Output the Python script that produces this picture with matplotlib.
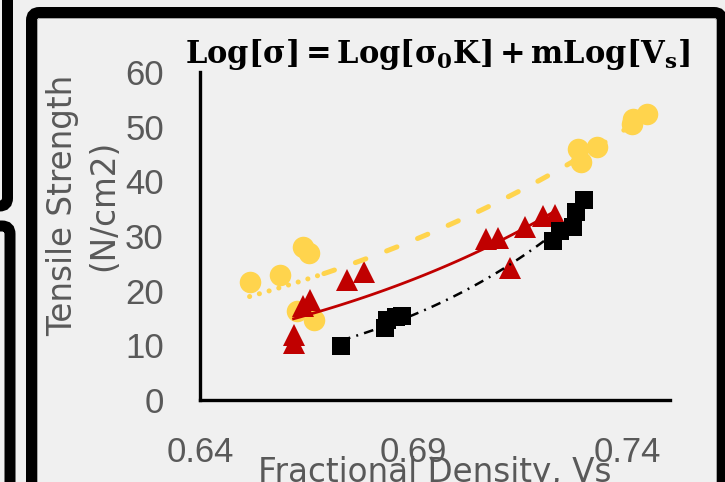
import matplotlib.pyplot as plt
from matplotlib.patches import FancyBboxPatch
from matplotlib.transforms import IdentityTransform
import numpy as np

plt.rcParams['lines.scale_dashes'] = False
plt.rcParams['mathtext.fontset'] = 'dejavuserif'

# values (fractional density Vs, tensile strength N/cm2)
vs_yellow = [0.6516, 0.6588, 0.6640, 0.6656, 0.6628, 0.6667,
             0.7284, 0.7291, 0.7330, 0.7414, 0.7447, 0.7410]
ts_yellow = [21.5, 22.9, 27.9, 26.8, 16.3, 14.7,
             45.9, 43.5, 46.2, 51.4, 52.3, 50.5]

vs_red = [0.6619, 0.6619, 0.6658, 0.6640, 0.6744, 0.6784,
          0.7070, 0.7098, 0.7160, 0.7202, 0.7230, 0.7126]
ts_red = [11.9, 10.5, 18.3, 17.2, 22.0, 23.5,
          29.4, 29.7, 31.7, 33.6, 33.9, 24.2]

vs_black = [0.6730, 0.6833, 0.6837, 0.6858, 0.6872,
            0.7226, 0.7242, 0.7272, 0.7279, 0.7298]
ts_black = [9.8, 13.2, 14.6, 15.2, 15.4,
            29.0, 31.0, 31.7, 34.3, 36.5]

x_ticks = [0.64, 0.69, 0.74]
y_ticks = [0, 10, 20, 30, 40, 50, 60]

title = r'$\mathbf{Log[\sigma] = Log[\sigma_0 K] + mLog[V_s]}$'

bg = '#f0f0f0'
gray = '#595959'
yellow = '#ffd44d'
red = '#c00000'

W, H = 725, 482
px = 0.72  # points per pixel at 100 dpi


def power_trend(x, y, lo=None, hi=None):
    # Excel style power trendline: log(y) = log(c) + m log(x)
    m, c = np.polyfit(np.log(x), np.log(y), 1)
    lo = min(x) if lo is None else lo
    hi = max(x) if hi is None else hi
    xs = np.linspace(lo, hi, 120)
    return xs, np.exp(c) * xs ** m


fig = plt.figure(figsize=(W / 100, H / 100), dpi=100, facecolor=bg)
ax = fig.add_axes([200 / W, (H - 400) / H, 470 / W, 328 / H])
ax.set_facecolor('none')

# markers first, trendlines on top (as in the original)
ax.plot(vs_yellow, ts_yellow, 'o', ms=15.5, color=yellow, mew=0, zorder=2)
ax.plot(vs_red, ts_red, '^', ms=16, color=red, mew=0, zorder=2)
ax.plot(vs_black, ts_black, 's', ms=13, color='black', mew=0, zorder=2)

split = 0.669
xs, ys = power_trend(vs_yellow, ts_yellow, hi=split)
ax.plot(xs, ys, color=yellow, lw=3.6, dashes=(0.1, 7.2),
        dash_capstyle='round', zorder=3)
xs, ys = power_trend(vs_yellow, ts_yellow, lo=split)
ax.plot(xs, ys, color=yellow, lw=3.6, dashes=(8, 16),
        dash_capstyle='round', zorder=3)

xs, ys = power_trend(vs_red, ts_red)
ax.plot(xs, ys, color=red, lw=2, zorder=3)

xs, ys = power_trend(vs_black, ts_black)
ax.plot(xs, ys, color='black', lw=1.8, dashes=(7, 4.5, 1.4, 4.5), zorder=3)

ax.set_xlim(0.64, 0.75)
ax.set_ylim(0, 60)
ax.set_xticks(x_ticks)
ax.set_xticklabels(['%.2f' % v for v in x_ticks])
ax.set_yticks(y_ticks)
ax.tick_params(length=0, pad=26, labelsize=25, labelcolor=gray)
for lab in ax.get_xticklabels() + ax.get_yticklabels():
    lab.set_family('Liberation Sans')

for s in ['top', 'right']:
    ax.spines[s].set_visible(False)
for s in ['left', 'bottom']:
    ax.spines[s].set_linewidth(2.4)
    ax.spines[s].set_capstyle('projecting')

fig.text(83 / W, 1 - 205 / H, 'Tensile Strength\n(N/cm2)', rotation=90,
         ha='center', va='center', multialignment='center', linespacing=1.3,
         fontsize=23.5, color=gray, family='DejaVu Sans')
fig.text(435 / W, 1 - 456 / H, 'Fractional Density, Vs', ha='center',
         va='top', fontsize=23.5, color=gray, family='DejaVu Sans')
fig.text(437 / W, 1 - 55 / H, title, ha='center', va='center', fontsize=22)


def frame(x0, y0, x1, y1, lw=11, color='black', r=8):
    # rectangle given in image pixels (y down), stroke centred on the edge
    p = FancyBboxPatch((x0, H - y1), x1 - x0, y1 - y0,
                       boxstyle='round,pad=0,rounding_size=%d' % r,
                       transform=IdentityTransform(), fill=False,
                       lw=lw * px, ec=color, zorder=5)
    fig.add_artist(p)


frame(-100, -100, 7.5, 206)
frame(-100, 226, 10, 700)
frame(31.5, 12.5, 722, 700)
frame(37.5, 18.5, 716.5, 700, lw=1, color='#a6a6a6', r=2)

fig.savefig('out.png', dpi=100, facecolor=bg)
